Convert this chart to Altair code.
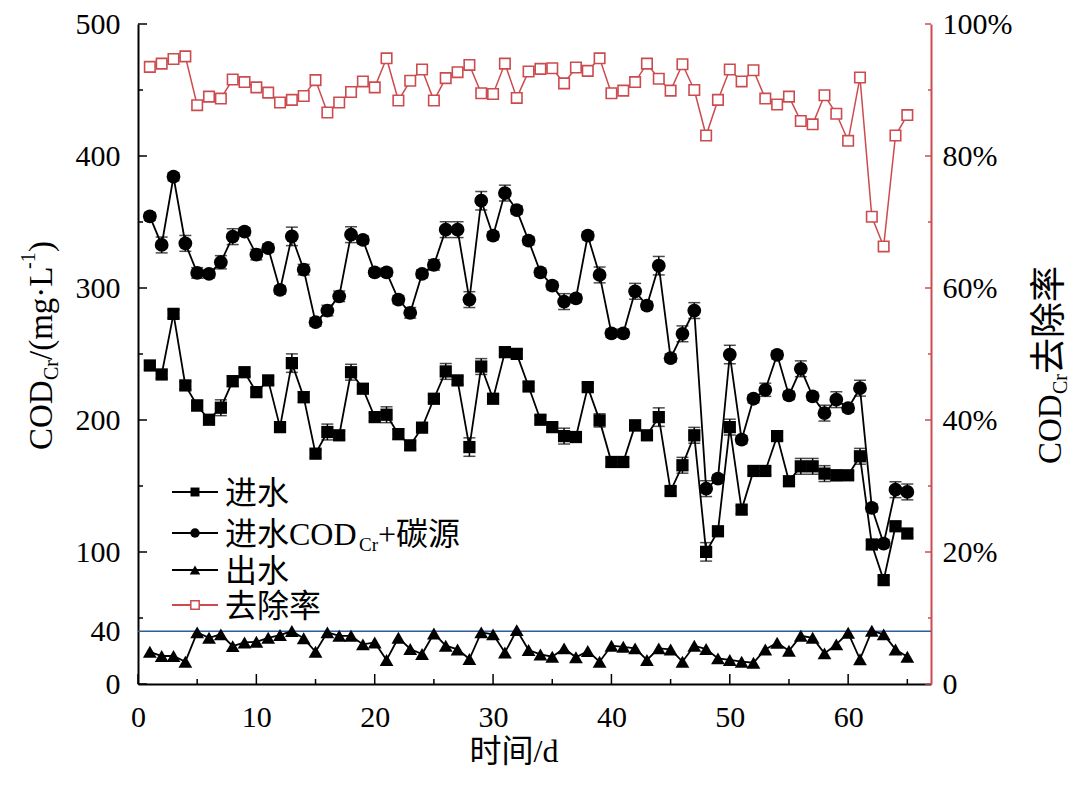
import altair as alt
import pandas as pd

# ---------------- data ----------------
days = list(range(1, 66))
influent = [241.3, 234.5, 280.4, 226.2, 211.0, 200.2, 209.3, 229.4, 236.2, 221.1,
            230.0, 194.6, 243.1, 217.3, 174.5, 190.9, 188.4, 236.2, 223.7, 202.2,
            204.0, 189.3, 180.8, 194.2, 216.1, 236.8, 230.0, 179.5, 240.5, 216.1,
            251.4, 250.1, 225.4, 200.2, 194.6, 187.8, 187.1, 224.9, 199.7, 168.2,
            168.2, 195.9, 188.4, 202.2, 146.2, 165.7, 188.4, 100.1, 115.7, 194.6,
            132.1, 161.4, 161.4, 187.8, 153.6, 164.9, 164.9, 159.4, 158.1, 158.1,
            172.5, 105.7, 78.7, 119.5, 114.0]
influent_carbon = [354.2, 332.6, 384.3, 333.8, 311.4, 310.7, 319.5, 338.9, 342.7, 325.3,
                   330.3, 298.5, 339.1, 313.9, 274.1, 282.9, 293.7, 340.4, 336.4, 311.9,
                   311.9, 291.2, 281.2, 310.7, 317.5, 344.2, 344.2, 291.2, 366.1, 339.6,
                   371.9, 359.0, 335.9, 311.9, 301.8, 289.7, 292.2, 339.6, 309.9, 265.7,
                   265.7, 297.5, 286.7, 316.9, 246.8, 265.3, 282.9, 148.0, 155.6, 249.6,
                   185.1, 216.1, 222.9, 249.4, 218.6, 238.8, 217.9, 205.2, 215.4, 209.0,
                   224.1, 133.4, 106.4, 147.2, 145.5]
effluent = [24.4, 21.2, 21.2, 16.9, 39.1, 35.0, 37.6, 28.7, 31.5, 32.0,
            35.0, 37.1, 40.1, 34.6, 24.4, 39.1, 36.5, 36.5, 30.0, 31.5,
            18.2, 35.0, 26.5, 22.7, 38.3, 29.0, 26.2, 18.9, 39.1, 37.6,
            23.8, 40.8, 25.7, 22.4, 20.7, 27.0, 20.2, 25.0, 16.9, 29.0,
            28.2, 27.0, 18.2, 27.0, 26.2, 16.9, 29.0, 26.5, 19.4, 18.2,
            16.9, 16.1, 26.2, 31.2, 25.2, 36.5, 35.0, 23.2, 30.0, 38.8,
            18.7, 40.3, 37.6, 26.2, 20.7]
removal = [93.5, 94.0, 94.7, 95.1, 87.7, 89.0, 88.7, 91.6, 91.2, 90.4,
           89.6, 88.1, 88.5, 89.1, 91.5, 86.6, 88.1, 89.7, 91.3, 90.4,
           94.8, 88.4, 91.4, 93.1, 88.4, 91.8, 92.7, 93.8, 89.5, 89.4,
           94.0, 88.8, 92.8, 93.2, 93.3, 91.0, 93.4, 92.9, 94.8, 89.5,
           89.9, 91.2, 94.0, 91.7, 89.9, 93.9, 90.0, 83.1, 88.5, 93.1,
           91.3, 93.0, 88.7, 87.8, 89.0, 85.3, 84.8, 89.2, 86.4, 82.3,
           91.9, 70.8, 66.3, 83.1, 86.2]
influent_err = [3, 3, 3, 3, 4, 3, 6, 4, 3, 3, 3, 3, 7, 4, 3, 6, 3, 6, 3, 3,
                6, 4, 3, 3, 3, 6, 3, 7, 6, 3, 3, 3, 3, 3, 3, 6, 3, 3, 5, 3,
                3, 4, 3, 7, 3, 6, 6, 7, 3, 6, 3, 3, 3, 3, 3, 6, 6, 6, 4, 3,
                6, 3, 3, 3, 3]
carbon_err = [3, 6, 3, 6, 4, 3, 5, 6, 3, 4, 3, 3, 7, 4, 3, 4, 4, 6, 3, 3,
              3, 3, 4, 3, 4, 6, 6, 6, 7, 3, 6, 3, 3, 3, 3, 6, 3, 3, 6, 3,
              3, 6, 3, 7, 3, 6, 6, 6, 3, 7, 3, 3, 5, 3, 3, 6, 3, 6, 6, 3,
              6, 3, 3, 6, 6]

x_major = [0, 10, 20, 30, 40, 50, 60]
x_minor = [5, 15, 25, 35, 45, 55, 65]
left_labels = [0, 40, 100, 200, 300, 400, 500]
left_major = [0, 100, 200, 300, 400, 500]
left_minor = [50, 150, 250, 350, 450]
right_major = [0, 20, 40, 60, 80, 100]
right_minor = [10, 30, 50, 70, 90]
limit_value = [40]

assert all(len(a) == 65 for a in [influent, influent_carbon, effluent, removal, influent_err, carbon_err])

df = pd.DataFrame({
    "day": days,
    "inf": influent,
    "carb": influent_carbon,
    "eff": effluent,
    "rem": removal,
})
df["inf_lo"] = [v - e for v, e in zip(influent, influent_err)]
df["inf_hi"] = [v + e for v, e in zip(influent, influent_err)]
df["carb_lo"] = [v - e for v, e in zip(influent_carbon, carbon_err)]
df["carb_hi"] = [v + e for v, e in zip(influent_carbon, carbon_err)]

# ---------------- styling ----------------
W, H = 793, 660
SERIF = "Liberation Serif, Noto Sans CJK SC"
FS = 30
RED = "#cc4b4f"
BLUE = "#2f5d95"

xs = alt.Scale(domain=[0, 67], nice=False, zero=False)
yls = alt.Scale(domain=[0, 500], nice=False)
yrs = alt.Scale(domain=[0, 100], nice=False)

x_axis = alt.Axis(values=x_major, ticks=False, tickSize=0, labelPadding=18, labelFontSize=FS,
                  labelFont=SERIF, labelColor="black", domainColor="black", domainWidth=2,
                  grid=False, title=None, labelFlush=False, labelOverlap=False, labelBound=False)
yl_axis = alt.Axis(values=left_labels, orient="left", ticks=False, tickSize=0, labelPadding=18,
                   labelFontSize=FS, labelFont=SERIF, labelColor="black", domainColor="black",
                   domainWidth=2, grid=False, title=None, labelFlush=False, labelOverlap=False,
                   labelBound=False)
yr_axis = alt.Axis(values=right_major, orient="right", ticks=False, tickSize=0, labelPadding=11,
                   labelFontSize=FS, labelFont=SERIF, labelColor="black", domainColor=RED,
                   domainWidth=2, grid=False, title=None, labelFlush=False, labelOverlap=False,
                   labelBound=False,
                   labelExpr="datum.value == 0 ? '0' : datum.value + '%'")


def X(f):
    return alt.X(f, type="quantitative", scale=xs, axis=x_axis)


def YL(f):
    return alt.Y(f, type="quantitative", scale=yls, axis=yl_axis)


def YR(f):
    return alt.Y(f, type="quantitative", scale=yrs, axis=yr_axis)


base = alt.Chart(df)
one = alt.Data(values=[{"k": 0}])


def txt(s, x, y, size, angle=0, align="left", color="black"):
    kw = dict(text=s, font=SERIF, fontSize=size, align=align, baseline="alphabetic", color=color)
    if angle:
        kw["angle"] = angle
    return alt.Chart(one).mark_text(**kw).encode(x=alt.value(x), y=alt.value(y))


def vals(v):
    return pd.DataFrame({"v": v})


# inward tick marks
xt_major = alt.Chart(vals(x_major)).mark_rule(color="black", strokeWidth=1.5).encode(
    x=X("v"), y=alt.value(H), y2=alt.value(H - 10))
xt_minor = alt.Chart(vals(x_minor)).mark_rule(color="black", strokeWidth=1.5).encode(
    x=X("v"), y=alt.value(H), y2=alt.value(H - 5))
yl_major = alt.Chart(vals(left_major)).mark_rule(color="black", strokeWidth=1.5).encode(
    y=YL("v"), x=alt.value(0), x2=alt.value(9))
yl_minor = alt.Chart(vals(left_minor)).mark_rule(color="black", strokeWidth=1.5).encode(
    y=YL("v"), x=alt.value(0), x2=alt.value(5))
yr_major = alt.Chart(vals(right_major)).mark_rule(color=RED, strokeWidth=1.5).encode(
    y=YR("v"), x=alt.value(W), x2=alt.value(W - 6))
yr_minor = alt.Chart(vals(right_minor)).mark_rule(color=RED, strokeWidth=1.5).encode(
    y=YR("v"), x=alt.value(W), x2=alt.value(W - 3))

limit = alt.Chart(vals(limit_value)).mark_rule(color=BLUE, strokeWidth=1.6).encode(
    y=YL("v"), x=alt.value(0), x2=alt.value(W))

layers = [limit, xt_major, xt_minor, yl_major, yl_minor]

for lo, hi in [("inf_lo", "inf_hi"), ("carb_lo", "carb_hi")]:
    layers.append(base.mark_rule(color="black", strokeWidth=1.5).encode(x=X("day"), y=YL(lo), y2=alt.Y2(hi)))
    layers.append(base.mark_tick(orient="horizontal", size=12, thickness=1.5, color="black").encode(x=X("day"), y=YL(hi)))
    layers.append(base.mark_tick(orient="horizontal", size=12, thickness=1.5, color="black").encode(x=X("day"), y=YL(lo)))

for f, shape, size in [("inf", "square", 150), ("carb", "circle", 190), ("eff", "triangle-up", 190)]:
    layers.append(base.mark_line(color="black", strokeWidth=1.8).encode(x=X("day"), y=YL(f)))
    layers.append(base.mark_point(shape=shape, filled=True, size=size, color="black", opacity=1).encode(
        x=X("day"), y=YL(f)))

# legend
leg_rows = [468, 509, 546, 581]
leg_specs = [("square", 80, "black", True), ("circle", 90, "black", True),
             ("triangle-up", 110, "black", True), ("square", 70, RED, False)]
for yy, (shape, size, col, filled) in zip(leg_rows, leg_specs):
    layers.append(alt.Chart(one).mark_rule(color=col, strokeWidth=1.8).encode(
        x=alt.value(34), x2=alt.value(80), y=alt.value(yy)))
    if filled:
        layers.append(alt.Chart(one).mark_point(shape=shape, filled=True, size=size, color=col, opacity=1).encode(
            x=alt.value(57), y=alt.value(yy)))
    else:
        layers.append(alt.Chart(one).mark_point(shape=shape, filled=True, fill="white", stroke=col,
                                                strokeWidth=1.5, size=size, opacity=1).encode(
            x=alt.value(57), y=alt.value(yy)))

LFS = 32
layers.append(txt("进水", 87, 480, LFS))
layers.append(txt("进水COD", 87, 521, LFS))
layers.append(txt("Cr", 221, 527, 19))
layers.append(txt("+碳源", 240, 521, LFS))
layers.append(txt("出水", 87, 558, LFS))
layers.append(txt("去除率", 87, 593, LFS))

# left axis title (rotated)
layers.append(txt("COD", -86, 426, 33, angle=270))
layers.append(txt("Cr", -80, 356, 20, angle=270))
layers.append(txt("/(mg·L", -86, 336, 33, angle=270))
layers.append(txt("-1", -103, 245, 20, angle=270))
layers.append(txt(")", -86, 228, 33, angle=270))

# right axis title (rotated)
layers.append(txt("COD", 923, 440, 33, angle=270))
layers.append(txt("Cr", 929, 370, 20, angle=270))
layers.append(txt("去除率", 923, 350, 36, angle=270))

# x axis title
layers.append(txt("时间/d", 376, 738, 32, align="center"))

left = alt.layer(*layers)

right = alt.layer(
    yr_major, yr_minor,
    base.mark_line(color=RED, strokeWidth=1.5).encode(x=X("day"), y=YR("rem")),
    base.mark_point(shape="square", filled=True, fill="white", stroke=RED, strokeWidth=1.6,
                    size=110, opacity=1).encode(x=X("day"), y=YR("rem")),
)

chart = alt.layer(left, right).resolve_scale(y="independent").properties(
    width=W, height=H,
    padding={"left": 130, "top": 16, "right": 141, "bottom": 90},
    autosize=alt.AutoSizeParams(type="none"),
).configure_view(stroke=None)

chart.save("out.html", embed_options={"renderer": "svg", "actions": False})
